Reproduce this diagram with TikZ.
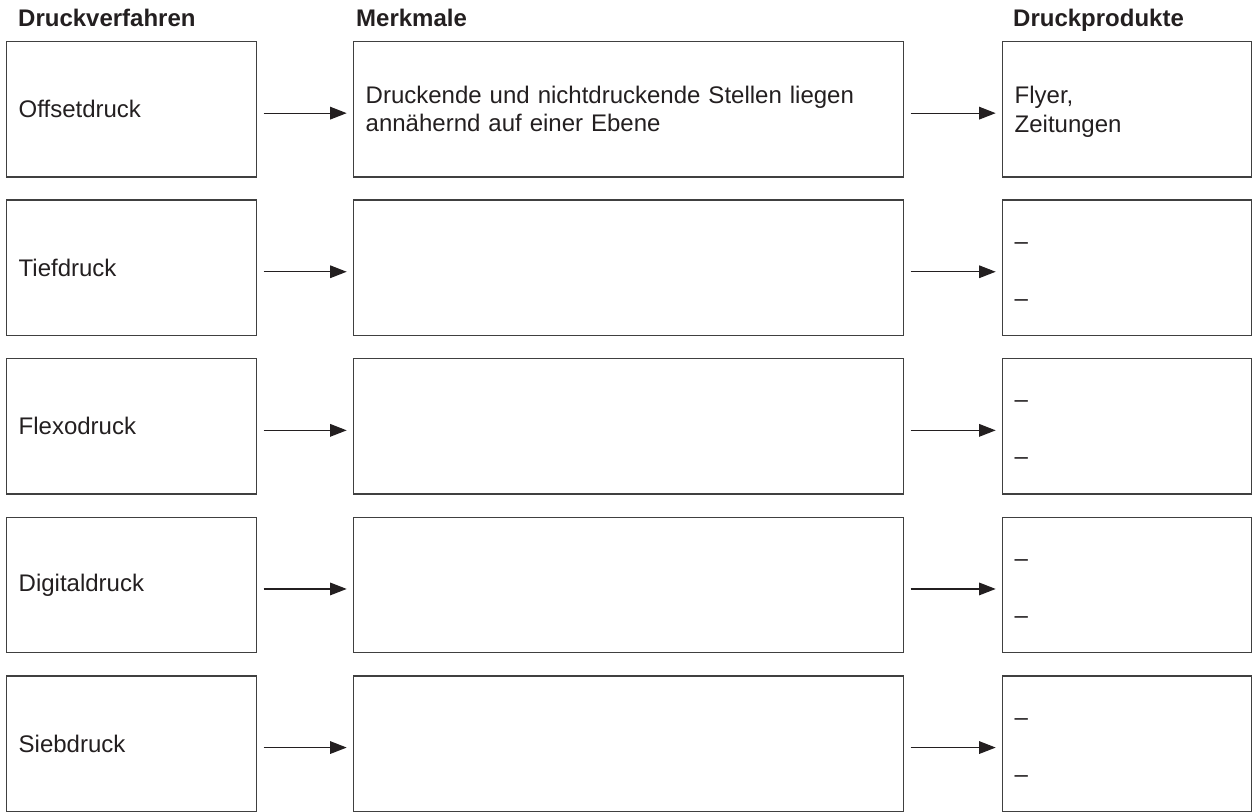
\documentclass[tikz,border=0pt]{standalone}
\usepackage{fontspec}
\setmainfont{Liberation Sans}
\usetikzlibrary{arrows.meta}
\definecolor{druck}{HTML}{231F20}

\begin{document}
\begin{tikzpicture}[x=1pt, y=-1pt,
  kasten/.style = {draw=black!75, line width=1.4pt, anchor=north west, inner xsep=12pt, inner ysep=0pt,
                   align=left, minimum height=135.5pt, text=druck, font=\fontsize{24}{28.5}\selectfont},
  pfeil/.style  = {-{Triangle[length=16.5pt, width=12.5pt]}, line width=1.3pt, draw=druck,
                   shorten <=6.3pt, shorten >=6.3pt},
  kopf/.style   = {anchor=base west, inner sep=0pt, text=druck, font=\fontsize{24}{28.5}\selectfont\bfseries}]
\useasboundingbox (0,0) rectangle (1252,811);
% Spaltenköpfe
\node[kopf] (kv) at (18,27)   {Druckverfahren};
\node[kopf] (km) at (356,27)  {Merkmale};
\node[kopf] (kp) at (1013,27) {Druckprodukte};
% Zeilen
\foreach \verfahren/\merkmal/\produkt [count=\i] in {
  Offsetdruck/{Druckende und nichtdruckende Stellen liegen\\annähernd auf einer Ebene}/{Flyer,\\\smash{Zeitungen}},
  Tiefdruck/{}/{\strut–\\[28.5pt]–},
  Flexodruck/{}/{\strut–\\[28.5pt]–},
  Digitaldruck/{}/{\strut–\\[28.5pt]–},
  Siebdruck/{}/{\strut–\\[28.5pt]–}}
{
  \pgfmathsetmacro\oben{40.7+(\i-1)*158.6}
  \node[kasten, text width=226pt] (v\i) at (6,\oben)    {\verfahren};
  \node[kasten, text width=526pt] (m\i) at (353,\oben)  {\merkmal};
  \node[kasten, text width=225pt] (p\i) at (1002,\oben) {\produkt};
  \draw[pfeil] ([yshift=-4pt]v\i.east) -- ([yshift=-4pt]m\i.west);
  \draw[pfeil] ([yshift=-4pt]m\i.east) -- ([yshift=-4pt]p\i.west);
}
\end{tikzpicture}
\end{document}
